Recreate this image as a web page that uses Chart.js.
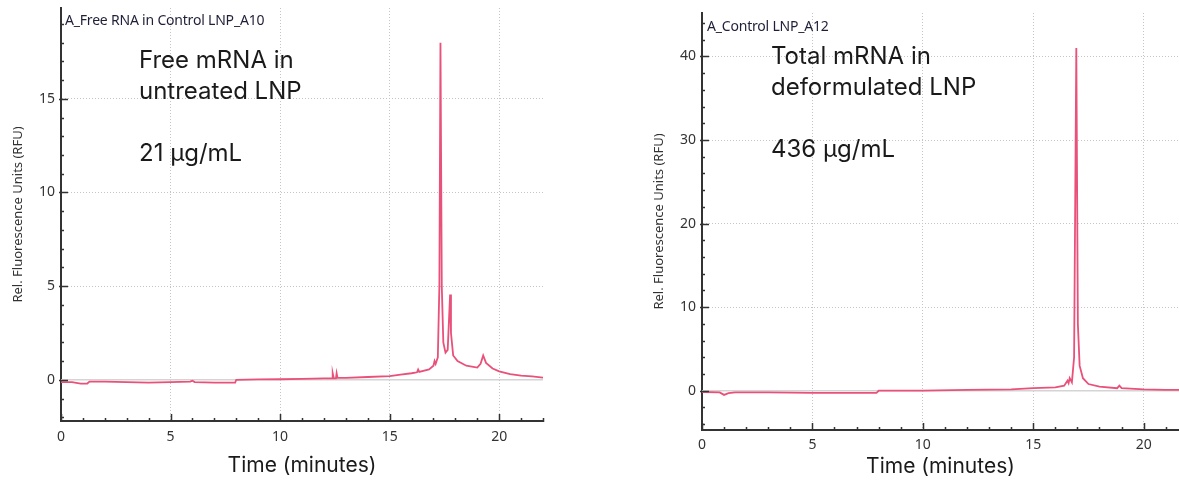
<!DOCTYPE html>
<html>
<head>
<meta charset="utf-8">
<script src="https://cdn.jsdelivr.net/npm/chart.js@4.4.0/dist/chart.umd.min.js"></script>
<style>
  body { margin: 0; width: 1179px; height: 481px; background: #fff; position: relative; overflow: hidden; }
  canvas { position: absolute; top: 0; }
  .sample { position: absolute; font: 14px "Noto Sans", sans-serif; color: #1f1f38; white-space: nowrap; line-height: 19px; letter-spacing: -0.2px; }
  .note { position: absolute; font: 24px Inter, sans-serif; line-height: 31px; color: #1a1a1a; white-space: nowrap; }
</style>
</head>
<body>
<canvas id="freeChart" width="560" height="481" style="left:0"></canvas>
<canvas id="totalChart" width="538" height="481" style="left:641px"></canvas>

<div class="sample" style="left:65px; top:10px">A_Free RNA in Control LNP_A10</div>
<div class="note" style="left:139px; top:44px">Free mRNA in<br>untreated LNP<br><br>21 μg/mL</div>

<div class="sample" style="left:707px; top:16px">A_Control LNP_A12</div>
<div class="note" style="left:771px; top:40px">Total mRNA in<br>deformulated LNP<br><br>436 μg/mL</div>

<script>
// free mRNA trace (untreated LNP)
const timeFree = [
  0, 0.5, 0.9, 1.2, 1.3, 2, 3, 4, 5, 5.9, 6.0, 6.1, 7, 7.95, 8.0, 9, 10, 11, 12,
  12.38, 12.4, 12.45, 12.55, 12.58, 12.62, 13, 14, 15, 15.5, 16, 16.25, 16.3, 16.35,
  16.8, 17.0, 17.05, 17.1, 17.2, 17.27, 17.32, 17.38, 17.45, 17.55, 17.65, 17.72,
  17.76, 17.8, 17.9, 18.1, 18.5, 19.0, 19.15, 19.27, 19.4, 19.7, 20.0, 20.5, 21.0,
  21.5, 22.0
];
const rfuFree = [
  -0.12, -0.12, -0.2, -0.2, -0.1, -0.1, -0.12, -0.15, -0.12, -0.1, -0.05, -0.12, -0.15, -0.15, 0.0, 0.02, 0.03, 0.05, 0.08,
  0.08, 0.35, 0.08, 0.08, 0.35, 0.1, 0.1, 0.15, 0.2, 0.28, 0.35, 0.4, 0.55, 0.42,
  0.55, 0.75, 1.0, 0.85, 1.2, 5, 18.0, 5, 2.0, 1.45, 1.6, 3.5,
  4.55, 2.5, 1.3, 1.0, 0.75, 0.65, 0.85, 1.3, 0.9, 0.6, 0.45, 0.3, 0.22,
  0.18, 0.12
];

// total mRNA trace (deformulated LNP)
const timeTotal = [
  0, 0.8, 1.0, 1.2, 1.5, 3, 5, 7, 7.9, 8.0, 10, 12, 14, 15, 16, 16.4, 16.55, 16.6,
  16.65, 16.75, 16.85, 16.95, 17.02, 17.1, 17.25, 17.5, 18, 18.8, 18.9, 19.0, 20, 21, 21.6
];
const rfuTotal = [
  -0.15, -0.2, -0.5, -0.3, -0.2, -0.2, -0.25, -0.25, -0.25, 0.0, 0.0, 0.1, 0.15, 0.3, 0.4, 0.6, 1.2, 0.9,
  1.5, 1.0, 4, 41.0, 8, 3, 1.5, 0.8, 0.5, 0.3, 0.6, 0.3, 0.15, 0.1, 0.1
];

const xTicks = [0, 5, 10, 15, 20];
const yTicksFree = [0, 5, 10, 15];
const yTicksTotal = [0, 10, 20, 30, 40];

const traceColor = '#e9517a';
const axisColor = '#333333';

// short inward ticks along both axes, longer at the labelled values
const innerTicks = {
  id: 'innerTicks',
  afterDraw(chart, args, opts) {
    const { ctx, chartArea, scales: { x, y } } = chart;
    ctx.save();
    ctx.strokeStyle = axisColor;
    ctx.lineWidth = 1.5;
    ctx.beginPath();
    for (let v = Math.ceil(x.min); v <= x.max; v += 1) {
      const px = Math.round(x.getPixelForValue(v)) + 0.5;
      const len = v % 5 === 0 ? 7 : 3;
      ctx.moveTo(px, chartArea.bottom + 1);
      ctx.lineTo(px, chartArea.bottom - len);
    }
    for (let v = Math.ceil(y.min / opts.minor) * opts.minor; v <= y.max; v += opts.minor) {
      const py = Math.round(y.getPixelForValue(v)) + 0.5;
      const len = v % opts.major === 0 ? 7 : 3;
      ctx.moveTo(chartArea.left - (len > 3 ? 2 : 0), py);
      ctx.lineTo(chartArea.left + len, py);
    }
    ctx.stroke();
    ctx.restore();
  }
};

function points(xs, ys) {
  return xs.map((t, i) => ({ x: t, y: ys[i] }));
}

// keep the plot box fixed: no extra room reserved for edge labels
function noEdgePad(s) {
  s.paddingTop = 0;
  s.paddingBottom = 0;
  s.paddingLeft = 0;
  s.paddingRight = 0;
}

function makeChart(id, o) {
  return new Chart(document.getElementById(id), {
    type: 'line',
    data: {
      datasets: [
        {
          data: points(o.time, o.rfu),
          borderColor: traceColor,
          borderWidth: 1.8,
          pointRadius: 0,
          tension: 0,
          order: 1
        },
        {
          // zero reference line
          data: points([0, o.xMax], [0, 0]),
          borderColor: '#d4d4d4',
          borderWidth: 1.5,
          pointRadius: 0,
          order: 2
        }
      ]
    },
    options: {
      responsive: false,
      animation: false,
      layout: { padding: o.padding },
      plugins: {
        legend: { display: false },
        tooltip: { enabled: false },
        innerTicks: { minor: o.yMinor, major: o.yMajor }
      },
      scales: {
        x: {
          type: 'linear',
          min: 0,
          max: o.xMax,
          afterBuildTicks: s => { s.ticks = xTicks.map(v => ({ value: v })); },
          afterFit: s => { s.height = o.xHeight; noEdgePad(s); },
          ticks: { font: { family: 'Noto Sans', size: 14 }, color: axisColor, padding: o.xLabelPad, maxRotation: 0 },
          grid: { color: '#c4c4c4', lineWidth: 1, drawTicks: false },
          border: { color: axisColor, width: 2, dash: [1, 2] },
          title: {
            display: true,
            text: 'Time (minutes)',
            font: { family: 'Inter', size: 21 },
            color: '#1a1a1a',
            padding: { top: 0, bottom: o.titlePad }
          }
        },
        y: {
          type: 'linear',
          min: o.yMin,
          max: o.yMax,
          afterBuildTicks: s => { s.ticks = o.yTicks.map(v => ({ value: v })); },
          afterFit: s => { s.width = 61; noEdgePad(s); },
          ticks: { font: { family: 'Noto Sans', size: 14 }, color: axisColor, padding: 6 },
          grid: { color: '#c4c4c4', lineWidth: 1, drawTicks: false },
          border: { color: axisColor, width: 2, dash: [1, 2] },
          title: {
            display: true,
            text: 'Rel. Fluorescence Units (RFU)',
            font: { family: 'Noto Sans', size: 13 },
            color: axisColor,
            padding: { top: 10, bottom: 0 }
          }
        }
      }
    },
    plugins: [innerTicks]
  });
}

makeChart('freeChart', {
  time: timeFree, rfu: rfuFree, xMax: 22,
  yMin: -2.2, yMax: 19.85, yTicks: yTicksFree, yMinor: 1, yMajor: 5,
  padding: { top: 8, right: 17, left: 0, bottom: 0 },
  xHeight: 60, xLabelPad: 8, titlePad: 3
});

makeChart('totalChart', {
  time: timeTotal, rfu: rfuTotal, xMax: 21.6,
  yMin: -4.7, yMax: 45.2, yTicks: yTicksTotal, yMinor: 2, yMajor: 10,
  padding: { top: 13, right: 0, left: 0, bottom: 0 },
  xHeight: 51, xLabelPad: 7, titlePad: 2
});
</script>
</body>
</html>
